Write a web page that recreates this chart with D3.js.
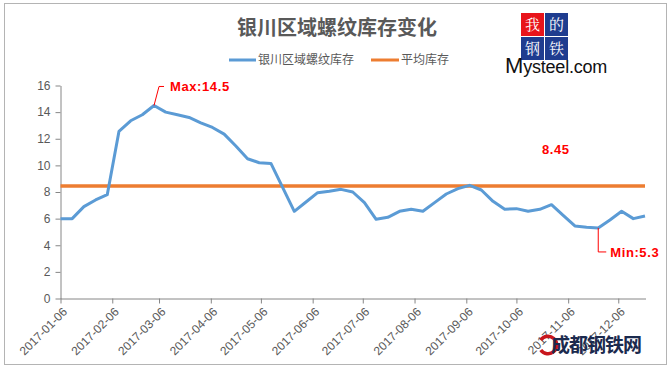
<!DOCTYPE html>
<html>
<head>
<meta charset="utf-8">
<script src="https://cdn.jsdelivr.net/npm/d3@7"></script>
<style>
  html, body { margin: 0; padding: 0; background: #fff; }
  svg { display: block; }
</style>
</head>
<body>
<svg id="chart" width="670" height="367"></svg>
<script>
// ---- data ----
const dates = [
  "2017-01-06","2017-01-13","2017-01-20","2017-01-27","2017-02-03","2017-02-10","2017-02-17","2017-02-24",
  "2017-03-03","2017-03-10","2017-03-17","2017-03-24","2017-03-31","2017-04-07","2017-04-14","2017-04-21",
  "2017-04-28","2017-05-05","2017-05-12","2017-05-19","2017-05-26","2017-06-02","2017-06-09","2017-06-16",
  "2017-06-23","2017-06-30","2017-07-07","2017-07-14","2017-07-21","2017-07-28","2017-08-04","2017-08-11",
  "2017-08-18","2017-08-25","2017-09-01","2017-09-08","2017-09-15","2017-09-22","2017-09-29","2017-10-06",
  "2017-10-13","2017-10-20","2017-10-27","2017-11-03","2017-11-10","2017-11-17","2017-11-24","2017-12-01",
  "2017-12-08","2017-12-15","2017-12-22"
];
const inventory = [
  6.0, 6.0, 6.9, 7.4, 7.8, 12.55, 13.35, 13.8,
  14.5, 14.0, 13.8, 13.6, 13.2, 12.85, 12.35, 11.45,
  10.5, 10.2, 10.15, 8.35, 6.55, 7.25, 7.95, 8.05,
  8.2, 8.0, 7.2, 5.95, 6.1, 6.55, 6.7, 6.55,
  7.2, 7.85, 8.25, 8.5, 8.15, 7.3, 6.7, 6.75,
  6.55, 6.7, 7.05, 6.25, 5.45, 5.35, 5.3, 5.9,
  6.55, 6.0, 6.2
];
const average = 8.45;
const xTickLabels = ["2017-01-06","2017-02-06","2017-03-06","2017-04-06","2017-05-06","2017-06-06",
  "2017-07-06","2017-08-06","2017-09-06","2017-10-06","2017-11-06","2017-12-06"];
const yTicks = [0, 2, 4, 6, 8, 10, 12, 14, 16];
const title = "银川区域螺纹库存变化";
const seriesNames = ["银川区域螺纹库存", "平均库存"];

// ---- setup ----
const parse = d3.timeParse("%Y-%m-%d");
const data = dates.map((d, i) => ({ date: parse(d), value: inventory[i] }));
const svg = d3.select("#chart");
const blue = "#5b9bd5", orange = "#ed7d31", grey = "#595959", axisCol = "#868686";
const numFont = "'Liberation Sans', Arial, sans-serif";
const cjkFont = "'Noto Sans CJK SC', 'Noto Sans', sans-serif";

// outer frame
svg.append("rect").attr("x", 4.5).attr("y", 3.5).attr("width", 662).attr("height", 361)
  .attr("fill", "#fff").attr("stroke", "#b4b4b4").attr("stroke-width", 1);

const x = d3.scaleTime().domain([parse("2017-01-06"), parse("2017-12-22")]).range([60.5, 645]);
const y = d3.scaleLinear().domain([0, 16]).range([298.5, 85.5]);

// y axis
const yAxis = svg.append("g").attr("transform", "translate(60.5,0)")
  .call(d3.axisLeft(y).tickValues(yTicks).tickSize(5).tickSizeOuter(0).tickPadding(5));
yAxis.selectAll("path, line").attr("stroke", axisCol);
yAxis.selectAll("text").attr("fill", grey).attr("font-family", numFont).attr("font-size", 12);

// x axis
const xAxis = svg.append("g").attr("transform", "translate(0,298.5)")
  .call(d3.axisBottom(x).tickValues(xTickLabels.map(parse)).tickSize(5).tickSizeOuter(0)
    .tickFormat(d3.timeFormat("%Y-%m-%d")));
xAxis.select(".domain").attr("d", "M60.5,0.5H646");
xAxis.selectAll("path, line").attr("stroke", axisCol);
xAxis.selectAll("text")
  .attr("fill", grey).attr("font-family", numFont).attr("font-size", 12)
  .attr("text-anchor", "end").attr("x", 0).attr("y", 0).attr("dy", "0.35em")
  .attr("transform", "translate(4,11) rotate(-45)");

// average line
svg.append("line")
  .attr("x1", x(data[0].date)).attr("x2", x(data[data.length - 1].date))
  .attr("y1", y(average)).attr("y2", y(average))
  .attr("stroke", orange).attr("stroke-width", 3.5);

// inventory line
svg.append("path").datum(data)
  .attr("fill", "none").attr("stroke", blue).attr("stroke-width", 3)
  .attr("stroke-linejoin", "round")
  .attr("d", d3.line().x(d => x(d.date)).y(d => y(d.value)));

// annotations
const red = "#ff0000";
const maxD = data[d3.maxIndex(data, d => d.value)];
const minD = data[d3.minIndex(data, d => d.value)];
const mx = x(maxD.date), my = y(maxD.value);
svg.append("path").attr("d", `M${mx},${my}L${mx + 5},${my - 19}H${mx + 10}`)
  .attr("fill", "none").attr("stroke", red).attr("stroke-width", 1);
svg.append("text").attr("x", mx + 16).attr("y", my - 14.5)
  .attr("fill", red).attr("font-family", numFont).attr("font-weight", "bold")
  .attr("font-size", 13).attr("letter-spacing", 0.6).text("Max:" + maxD.value);

const nx = x(minD.date), ny = y(minD.value);
svg.append("path").attr("d", `M${nx},${ny}V${ny + 24}H${nx + 8}`)
  .attr("fill", "none").attr("stroke", red).attr("stroke-width", 1);
svg.append("text").attr("x", nx + 12).attr("y", ny + 29)
  .attr("fill", red).attr("font-family", numFont).attr("font-weight", "bold")
  .attr("font-size", 13).attr("letter-spacing", 0.6).text("Min:" + minD.value);

svg.append("text").attr("x", 542).attr("y", y(average) - 32)
  .attr("fill", red).attr("font-family", numFont).attr("font-weight", "bold")
  .attr("font-size", 13).attr("letter-spacing", 0.6).text(average.toFixed(2));

// title
svg.append("text").attr("x", 337).attr("y", 35).attr("text-anchor", "middle")
  .attr("fill", grey).attr("font-family", cjkFont).attr("font-weight", "bold")
  .attr("font-size", 20).text(title);

// legend
const legend = [
  { name: seriesNames[0], color: blue, x1: 229, x2: 256 },
  { name: seriesNames[1], color: orange, x1: 371, x2: 399 }
];
legend.forEach(l => {
  svg.append("line").attr("x1", l.x1).attr("x2", l.x2).attr("y1", 60).attr("y2", 60)
    .attr("stroke", l.color).attr("stroke-width", 3);
  svg.append("text").attr("x", l.x2 + 2).attr("y", 60).attr("dy", "0.35em")
    .attr("fill", grey).attr("font-family", cjkFont).attr("font-size", 12).text(l.name);
});

// Mysteel logo
const logo = svg.append("g");
const boxes = [
  { c: "我", x: 521, y: 13, f: "#e8141b" },
  { c: "的", x: 545, y: 13, f: "#1f3c8f" },
  { c: "钢", x: 521, y: 37, f: "#1f3c8f" },
  { c: "铁", x: 545, y: 37, f: "#1f3c8f" }
];
boxes.forEach(b => {
  logo.append("rect").attr("x", b.x).attr("y", b.y).attr("width", 23).attr("height", 23).attr("fill", b.f);
  logo.append("text").attr("x", b.x + 11.5).attr("y", b.y + 11.5).attr("dy", "0.35em")
    .attr("text-anchor", "middle").attr("fill", "#fff").attr("font-family", "'Noto Serif CJK SC', " + cjkFont)
    .attr("font-size", 15).text(b.c);
});
logo.append("text").attr("x", 505).attr("y", 73).attr("fill", "#111")
  .attr("font-family", numFont).attr("font-size", 18).attr("letter-spacing", -0.2)
  .html('<tspan font-size="22">M</tspan>ysteel.com');

// watermark bottom-right
const wm = svg.append("g");
wm.append("path")
  .attr("d", d3.arc()({ innerRadius: 7, outerRadius: 10.5, startAngle: 0.6, endAngle: Math.PI * 2 - 0.6 }))
  .attr("transform", "translate(548,345) rotate(-90)")
  .attr("fill", "#c8161d");
wm.append("text").attr("x", 551).attr("y", 352).attr("fill", "#1b2a4e")
  .attr("font-family", cjkFont).attr("font-weight", "bold").attr("font-size", 19)
  .attr("letter-spacing", -1).text("成都钢铁网");
</script>
</body>
</html>
